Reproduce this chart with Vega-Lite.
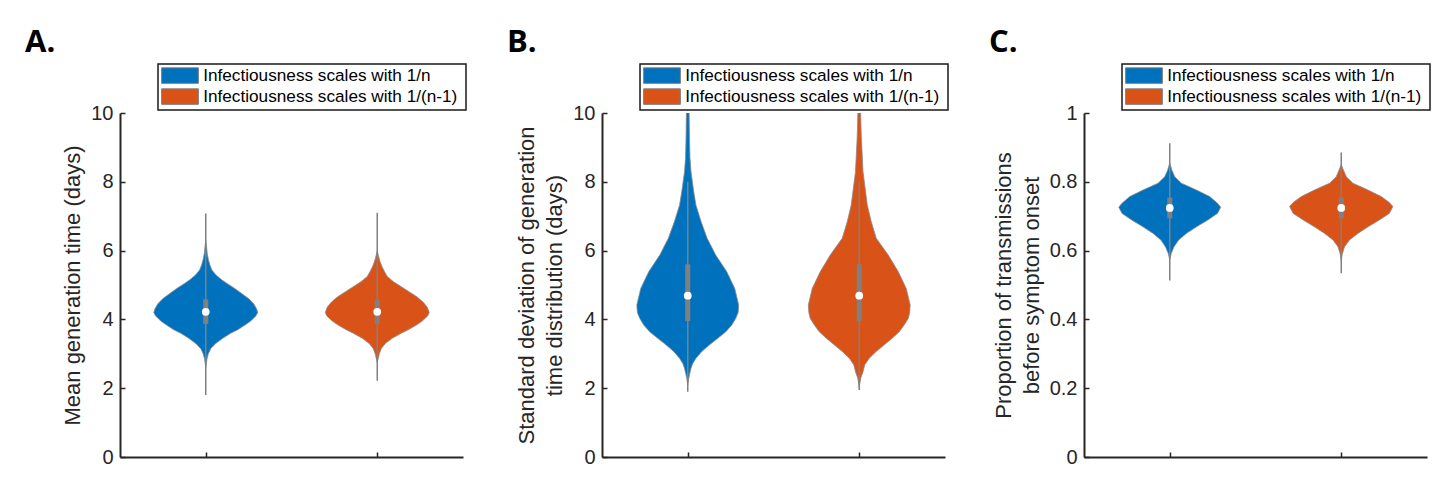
{
  "$schema": "https://vega.github.io/schema/vega-lite/v6.json",
  "background": "white",
  "padding": {"left": 25, "top": 27, "right": 15, "bottom": 20},
  "autosize": {"type": "pad"},
  "config": {
    "view": {"stroke": null},
    "axis": {
      "grid": false,
      "domainColor": "#262626",
      "domainWidth": 2,
      "tickColor": "#262626",
      "tickWidth": 1.5,
      "tickSize": -5,
      "labelColor": "#262626",
      "labelFont": "Liberation Sans",
      "labelFontSize": 20,
      "labelPadding": 12,
      "titleColor": "#262626",
      "titleFont": "Liberation Sans",
      "titleFontSize": 22,
      "titleFontWeight": "normal",
      "titleLineHeight": 28,
      "titlePadding": 6
    },
    "legend": {
      "orient": "none",
      "legendX": 38,
      "legendY": -49,
      "title": null,
      "strokeColor": "#1a1a1a",
      "strokeWidth": 1.5,
      "fillColor": "white",
      "padding": 3,
      "rowPadding": 0,
      "labelFont": "Liberation Sans",
      "labelFontSize": 17.2,
      "labelColor": "#000000",
      "labelOffset": 25,
      "labelLimit": 400,
      "symbolType": "M-1,-0.97H3.6V0.97H-1Z",
      "symbolSize": 256,
      "symbolStrokeColor": "#808080",
      "symbolStrokeWidth": 1,
      "symbolOpacity": 1
    },
    "title": {
      "anchor": "start",
      "frame": "group",
      "font": "Open Sans",
      "fontSize": 31,
      "fontWeight": "bold",
      "color": "#000000",
      "dx": -95
    }
  },
  "datasets": {
    "shapes": [
      {"panel": "A", "scaling": "1/n", "value": 6.3, "hw": 0},
      {"panel": "A", "scaling": "1/n", "value": 6.1, "hw": 0.005},
      {"panel": "A", "scaling": "1/n", "value": 5.9, "hw": 0.009},
      {"panel": "A", "scaling": "1/n", "value": 5.75, "hw": 0.015},
      {"panel": "A", "scaling": "1/n", "value": 5.6, "hw": 0.023},
      {"panel": "A", "scaling": "1/n", "value": 5.44, "hw": 0.035},
      {"panel": "A", "scaling": "1/n", "value": 5.3, "hw": 0.058},
      {"panel": "A", "scaling": "1/n", "value": 5.15, "hw": 0.093},
      {"panel": "A", "scaling": "1/n", "value": 5.05, "hw": 0.122},
      {"panel": "A", "scaling": "1/n", "value": 4.9, "hw": 0.169},
      {"panel": "A", "scaling": "1/n", "value": 4.75, "hw": 0.21},
      {"panel": "A", "scaling": "1/n", "value": 4.6, "hw": 0.251},
      {"panel": "A", "scaling": "1/n", "value": 4.45, "hw": 0.28},
      {"panel": "A", "scaling": "1/n", "value": 4.3, "hw": 0.297},
      {"panel": "A", "scaling": "1/n", "value": 4.2, "hw": 0.303},
      {"panel": "A", "scaling": "1/n", "value": 4.1, "hw": 0.292},
      {"panel": "A", "scaling": "1/n", "value": 3.95, "hw": 0.262},
      {"panel": "A", "scaling": "1/n", "value": 3.85, "hw": 0.233},
      {"panel": "A", "scaling": "1/n", "value": 3.7, "hw": 0.187},
      {"panel": "A", "scaling": "1/n", "value": 3.6, "hw": 0.146},
      {"panel": "A", "scaling": "1/n", "value": 3.45, "hw": 0.099},
      {"panel": "A", "scaling": "1/n", "value": 3.3, "hw": 0.058},
      {"panel": "A", "scaling": "1/n", "value": 3.15, "hw": 0.029},
      {"panel": "A", "scaling": "1/n", "value": 3.0, "hw": 0.015},
      {"panel": "A", "scaling": "1/n", "value": 2.85, "hw": 0.007},
      {"panel": "A", "scaling": "1/n", "value": 2.7, "hw": 0.003},
      {"panel": "A", "scaling": "1/n", "value": 2.6, "hw": 0},

      {"panel": "A", "scaling": "1/(n-1)", "value": 6.0, "hw": 0},
      {"panel": "A", "scaling": "1/(n-1)", "value": 5.85, "hw": 0.007},
      {"panel": "A", "scaling": "1/(n-1)", "value": 5.7, "hw": 0.015},
      {"panel": "A", "scaling": "1/(n-1)", "value": 5.55, "hw": 0.026},
      {"panel": "A", "scaling": "1/(n-1)", "value": 5.4, "hw": 0.041},
      {"panel": "A", "scaling": "1/(n-1)", "value": 5.25, "hw": 0.058},
      {"panel": "A", "scaling": "1/(n-1)", "value": 5.1, "hw": 0.093},
      {"panel": "A", "scaling": "1/(n-1)", "value": 4.95, "hw": 0.14},
      {"panel": "A", "scaling": "1/(n-1)", "value": 4.8, "hw": 0.187},
      {"panel": "A", "scaling": "1/(n-1)", "value": 4.65, "hw": 0.233},
      {"panel": "A", "scaling": "1/(n-1)", "value": 4.5, "hw": 0.268},
      {"panel": "A", "scaling": "1/(n-1)", "value": 4.35, "hw": 0.292},
      {"panel": "A", "scaling": "1/(n-1)", "value": 4.2, "hw": 0.303},
      {"panel": "A", "scaling": "1/(n-1)", "value": 4.1, "hw": 0.294},
      {"panel": "A", "scaling": "1/(n-1)", "value": 3.95, "hw": 0.262},
      {"panel": "A", "scaling": "1/(n-1)", "value": 3.85, "hw": 0.233},
      {"panel": "A", "scaling": "1/(n-1)", "value": 3.7, "hw": 0.181},
      {"panel": "A", "scaling": "1/(n-1)", "value": 3.6, "hw": 0.14},
      {"panel": "A", "scaling": "1/(n-1)", "value": 3.45, "hw": 0.087},
      {"panel": "A", "scaling": "1/(n-1)", "value": 3.3, "hw": 0.047},
      {"panel": "A", "scaling": "1/(n-1)", "value": 3.15, "hw": 0.023},
      {"panel": "A", "scaling": "1/(n-1)", "value": 3.0, "hw": 0.012},
      {"panel": "A", "scaling": "1/(n-1)", "value": 2.85, "hw": 0.005},
      {"panel": "A", "scaling": "1/(n-1)", "value": 2.75, "hw": 0},

      {"panel": "B", "scaling": "1/n", "value": 10.6, "hw": 0.0035},
      {"panel": "B", "scaling": "1/n", "value": 10.0, "hw": 0.008},
      {"panel": "B", "scaling": "1/n", "value": 9.26, "hw": 0.01},
      {"panel": "B", "scaling": "1/n", "value": 8.7, "hw": 0.013},
      {"panel": "B", "scaling": "1/n", "value": 8.29, "hw": 0.019},
      {"panel": "B", "scaling": "1/n", "value": 7.71, "hw": 0.035},
      {"panel": "B", "scaling": "1/n", "value": 7.32, "hw": 0.048},
      {"panel": "B", "scaling": "1/n", "value": 6.84, "hw": 0.078},
      {"panel": "B", "scaling": "1/n", "value": 6.36, "hw": 0.113},
      {"panel": "B", "scaling": "1/n", "value": 5.87, "hw": 0.163},
      {"panel": "B", "scaling": "1/n", "value": 5.39, "hw": 0.227},
      {"panel": "B", "scaling": "1/n", "value": 4.9, "hw": 0.274},
      {"panel": "B", "scaling": "1/n", "value": 4.42, "hw": 0.297},
      {"panel": "B", "scaling": "1/n", "value": 4.2, "hw": 0.294},
      {"panel": "B", "scaling": "1/n", "value": 4.03, "hw": 0.28},
      {"panel": "B", "scaling": "1/n", "value": 3.84, "hw": 0.257},
      {"panel": "B", "scaling": "1/n", "value": 3.64, "hw": 0.222},
      {"panel": "B", "scaling": "1/n", "value": 3.45, "hw": 0.175},
      {"panel": "B", "scaling": "1/n", "value": 3.26, "hw": 0.127},
      {"panel": "B", "scaling": "1/n", "value": 3.07, "hw": 0.082},
      {"panel": "B", "scaling": "1/n", "value": 2.87, "hw": 0.048},
      {"panel": "B", "scaling": "1/n", "value": 2.72, "hw": 0.029},
      {"panel": "B", "scaling": "1/n", "value": 2.58, "hw": 0.019},
      {"panel": "B", "scaling": "1/n", "value": 2.43, "hw": 0.012},
      {"panel": "B", "scaling": "1/n", "value": 2.29, "hw": 0.006},
      {"panel": "B", "scaling": "1/n", "value": 2.1, "hw": 0},

      {"panel": "B", "scaling": "1/(n-1)", "value": 10.6, "hw": 0.0035},
      {"panel": "B", "scaling": "1/(n-1)", "value": 10.0, "hw": 0.008},
      {"panel": "B", "scaling": "1/(n-1)", "value": 9.3, "hw": 0.012},
      {"panel": "B", "scaling": "1/(n-1)", "value": 8.29, "hw": 0.022},
      {"panel": "B", "scaling": "1/(n-1)", "value": 7.32, "hw": 0.047},
      {"panel": "B", "scaling": "1/(n-1)", "value": 6.84, "hw": 0.07},
      {"panel": "B", "scaling": "1/(n-1)", "value": 6.36, "hw": 0.099},
      {"panel": "B", "scaling": "1/(n-1)", "value": 5.87, "hw": 0.169},
      {"panel": "B", "scaling": "1/(n-1)", "value": 5.39, "hw": 0.227},
      {"panel": "B", "scaling": "1/(n-1)", "value": 4.9, "hw": 0.274},
      {"panel": "B", "scaling": "1/(n-1)", "value": 4.42, "hw": 0.297},
      {"panel": "B", "scaling": "1/(n-1)", "value": 4.2, "hw": 0.294},
      {"panel": "B", "scaling": "1/(n-1)", "value": 4.03, "hw": 0.286},
      {"panel": "B", "scaling": "1/(n-1)", "value": 3.84, "hw": 0.262},
      {"panel": "B", "scaling": "1/(n-1)", "value": 3.64, "hw": 0.233},
      {"panel": "B", "scaling": "1/(n-1)", "value": 3.45, "hw": 0.192},
      {"panel": "B", "scaling": "1/(n-1)", "value": 3.26, "hw": 0.146},
      {"panel": "B", "scaling": "1/(n-1)", "value": 3.07, "hw": 0.099},
      {"panel": "B", "scaling": "1/(n-1)", "value": 2.87, "hw": 0.058},
      {"panel": "B", "scaling": "1/(n-1)", "value": 2.68, "hw": 0.032},
      {"panel": "B", "scaling": "1/(n-1)", "value": 2.48, "hw": 0.022},
      {"panel": "B", "scaling": "1/(n-1)", "value": 2.3, "hw": 0.009},
      {"panel": "B", "scaling": "1/(n-1)", "value": 2.12, "hw": 0.003},
      {"panel": "B", "scaling": "1/(n-1)", "value": 2.0, "hw": 0},

      {"panel": "C", "scaling": "1/n", "value": 0.855, "hw": 0},
      {"panel": "C", "scaling": "1/n", "value": 0.845, "hw": 0.006},
      {"panel": "C", "scaling": "1/n", "value": 0.834, "hw": 0.012},
      {"panel": "C", "scaling": "1/n", "value": 0.815, "hw": 0.029},
      {"panel": "C", "scaling": "1/n", "value": 0.796, "hw": 0.068},
      {"panel": "C", "scaling": "1/n", "value": 0.776, "hw": 0.156},
      {"panel": "C", "scaling": "1/n", "value": 0.757, "hw": 0.233},
      {"panel": "C", "scaling": "1/n", "value": 0.737, "hw": 0.28},
      {"panel": "C", "scaling": "1/n", "value": 0.726, "hw": 0.297},
      {"panel": "C", "scaling": "1/n", "value": 0.708, "hw": 0.278},
      {"panel": "C", "scaling": "1/n", "value": 0.689, "hw": 0.222},
      {"panel": "C", "scaling": "1/n", "value": 0.669, "hw": 0.156},
      {"panel": "C", "scaling": "1/n", "value": 0.65, "hw": 0.097},
      {"panel": "C", "scaling": "1/n", "value": 0.631, "hw": 0.052},
      {"panel": "C", "scaling": "1/n", "value": 0.611, "hw": 0.025},
      {"panel": "C", "scaling": "1/n", "value": 0.592, "hw": 0.009},
      {"panel": "C", "scaling": "1/n", "value": 0.573, "hw": 0},

      {"panel": "C", "scaling": "1/(n-1)", "value": 0.85, "hw": 0},
      {"panel": "C", "scaling": "1/(n-1)", "value": 0.835, "hw": 0.012},
      {"panel": "C", "scaling": "1/(n-1)", "value": 0.815, "hw": 0.029},
      {"panel": "C", "scaling": "1/(n-1)", "value": 0.796, "hw": 0.068},
      {"panel": "C", "scaling": "1/(n-1)", "value": 0.776, "hw": 0.156},
      {"panel": "C", "scaling": "1/(n-1)", "value": 0.757, "hw": 0.233},
      {"panel": "C", "scaling": "1/(n-1)", "value": 0.74, "hw": 0.28},
      {"panel": "C", "scaling": "1/(n-1)", "value": 0.728, "hw": 0.301},
      {"panel": "C", "scaling": "1/(n-1)", "value": 0.708, "hw": 0.28},
      {"panel": "C", "scaling": "1/(n-1)", "value": 0.689, "hw": 0.222},
      {"panel": "C", "scaling": "1/(n-1)", "value": 0.669, "hw": 0.156},
      {"panel": "C", "scaling": "1/(n-1)", "value": 0.65, "hw": 0.097},
      {"panel": "C", "scaling": "1/(n-1)", "value": 0.631, "hw": 0.048},
      {"panel": "C", "scaling": "1/(n-1)", "value": 0.611, "hw": 0.019},
      {"panel": "C", "scaling": "1/(n-1)", "value": 0.59, "hw": 0.006},
      {"panel": "C", "scaling": "1/(n-1)", "value": 0.57, "hw": 0}
    ],
    "stats": [
      {"panel": "A", "scaling": "1/n", "min": 1.8, "q1": 3.87, "median": 4.22, "q3": 4.58, "max": 7.08},
      {"panel": "A", "scaling": "1/(n-1)", "min": 2.22, "q1": 3.87, "median": 4.22, "q3": 4.58, "max": 7.1},
      {"panel": "B", "scaling": "1/n", "min": 1.9, "q1": 3.95, "median": 4.69, "q3": 5.6, "max": 8.0},
      {"panel": "B", "scaling": "1/(n-1)", "min": 1.95, "q1": 3.95, "median": 4.69, "q3": 5.6, "max": 8.0},
      {"panel": "C", "scaling": "1/n", "min": 0.513, "q1": 0.694, "median": 0.724, "q3": 0.754, "max": 0.912},
      {"panel": "C", "scaling": "1/(n-1)", "min": 0.534, "q1": 0.694, "median": 0.724, "q3": 0.754, "max": 0.885}
    ]
  },
  "spacing": 139,
  "bounds": "flush",
  "resolve": {
    "scale": {"x": "independent", "y": "independent", "color": "independent"},
    "legend": {"color": "independent"}
  },
  "hconcat": [
    {
      "width": 343,
      "height": 344,
      "title": {"text": "A."},
      "layer": [
        {
          "data": {"name": "shapes"},
          "transform": [
            {"filter": "datum.panel == 'A'"},
            {"calculate": "datum.scaling == '1/n' ? 1 : 2", "as": "pos"},
            {"calculate": "datum.pos - datum.hw", "as": "lo"},
            {"calculate": "datum.pos + datum.hw", "as": "hi"}
          ],
          "mark": {"type": "area", "orient": "horizontal", "stroke": "#8a8a8a", "strokeWidth": 0.8, "opacity": 1, "clip": true},
          "encoding": {
            "y": {"field": "value", "type": "quantitative", "scale": {"domain": [0, 10], "nice": false},
                  "axis": {"values": [0, 2, 4, 6, 8, 10], "title": "Mean generation time (days)"}},
            "x": {"field": "lo", "type": "quantitative", "scale": {"domain": [0.5, 2.5], "nice": false, "zero": false},
                  "axis": {"values": [1, 2], "labels": false, "title": null}},
            "x2": {"field": "hi"},
            "color": {"field": "scaling", "type": "nominal",
                      "scale": {"domain": ["1/n", "1/(n-1)"], "range": ["#0072BD", "#D95319"]},
                      "legend": {"labelExpr": "'Infectiousness scales with  ' + datum.label"}}
          }
        },
        {
          "data": {"name": "stats"},
          "transform": [
            {"filter": "datum.panel == 'A'"},
            {"calculate": "datum.scaling == '1/n' ? 1 : 2", "as": "pos"}
          ],
          "layer": [
            {"mark": {"type": "rule", "color": "#808080", "strokeWidth": 1.5},
             "encoding": {"x": {"field": "pos", "type": "quantitative"}, "y": {"field": "min", "type": "quantitative"}, "y2": {"field": "max"}}},
            {"mark": {"type": "rule", "color": "#808080", "strokeWidth": 5},
             "encoding": {"x": {"field": "pos", "type": "quantitative"}, "y": {"field": "q1", "type": "quantitative"}, "y2": {"field": "q3"}}},
            {"mark": {"type": "point", "filled": true, "color": "white", "opacity": 1, "size": 60, "shape": "circle"},
             "encoding": {"x": {"field": "pos", "type": "quantitative"}, "y": {"field": "median", "type": "quantitative"}}}
          ]
        }
      ]
    },
    {
      "width": 343,
      "height": 344,
      "title": {"text": "B."},
      "layer": [
        {
          "data": {"name": "shapes"},
          "transform": [
            {"filter": "datum.panel == 'B'"},
            {"calculate": "datum.scaling == '1/n' ? 1 : 2", "as": "pos"},
            {"calculate": "datum.pos - datum.hw", "as": "lo"},
            {"calculate": "datum.pos + datum.hw", "as": "hi"}
          ],
          "mark": {"type": "area", "orient": "horizontal", "stroke": "#8a8a8a", "strokeWidth": 0.8, "opacity": 1, "clip": true},
          "encoding": {
            "y": {"field": "value", "type": "quantitative", "scale": {"domain": [0, 10], "nice": false},
                  "axis": {"values": [0, 2, 4, 6, 8, 10], "title": ["Standard deviation of generation", "time distribution (days)"]}},
            "x": {"field": "lo", "type": "quantitative", "scale": {"domain": [0.5, 2.5], "nice": false, "zero": false},
                  "axis": {"values": [1, 2], "labels": false, "title": null}},
            "x2": {"field": "hi"},
            "color": {"field": "scaling", "type": "nominal",
                      "scale": {"domain": ["1/n", "1/(n-1)"], "range": ["#0072BD", "#D95319"]},
                      "legend": {"labelExpr": "'Infectiousness scales with  ' + datum.label"}}
          }
        },
        {
          "data": {"name": "stats"},
          "transform": [
            {"filter": "datum.panel == 'B'"},
            {"calculate": "datum.scaling == '1/n' ? 1 : 2", "as": "pos"}
          ],
          "layer": [
            {"mark": {"type": "rule", "color": "#808080", "strokeWidth": 1.5},
             "encoding": {"x": {"field": "pos", "type": "quantitative"}, "y": {"field": "min", "type": "quantitative"}, "y2": {"field": "max"}}},
            {"mark": {"type": "rule", "color": "#808080", "strokeWidth": 5},
             "encoding": {"x": {"field": "pos", "type": "quantitative"}, "y": {"field": "q1", "type": "quantitative"}, "y2": {"field": "q3"}}},
            {"mark": {"type": "point", "filled": true, "color": "white", "opacity": 1, "size": 60, "shape": "circle"},
             "encoding": {"x": {"field": "pos", "type": "quantitative"}, "y": {"field": "median", "type": "quantitative"}}}
          ]
        }
      ]
    },
    {
      "width": 343,
      "height": 344,
      "title": {"text": "C."},
      "layer": [
        {
          "data": {"name": "shapes"},
          "transform": [
            {"filter": "datum.panel == 'C'"},
            {"calculate": "datum.scaling == '1/n' ? 1 : 2", "as": "pos"},
            {"calculate": "datum.pos - datum.hw", "as": "lo"},
            {"calculate": "datum.pos + datum.hw", "as": "hi"}
          ],
          "mark": {"type": "area", "orient": "horizontal", "stroke": "#8a8a8a", "strokeWidth": 0.8, "opacity": 1, "clip": true},
          "encoding": {
            "y": {"field": "value", "type": "quantitative", "scale": {"domain": [0, 1], "nice": false},
                  "axis": {"values": [0, 0.2, 0.4, 0.6, 0.8, 1], "format": "~g", "title": ["Proportion of transmissions", "before symptom onset"]}},
            "x": {"field": "lo", "type": "quantitative", "scale": {"domain": [0.5, 2.5], "nice": false, "zero": false},
                  "axis": {"values": [1, 2], "labels": false, "title": null}},
            "x2": {"field": "hi"},
            "color": {"field": "scaling", "type": "nominal",
                      "scale": {"domain": ["1/n", "1/(n-1)"], "range": ["#0072BD", "#D95319"]},
                      "legend": {"labelExpr": "'Infectiousness scales with  ' + datum.label"}}
          }
        },
        {
          "data": {"name": "stats"},
          "transform": [
            {"filter": "datum.panel == 'C'"},
            {"calculate": "datum.scaling == '1/n' ? 1 : 2", "as": "pos"}
          ],
          "layer": [
            {"mark": {"type": "rule", "color": "#808080", "strokeWidth": 1.5},
             "encoding": {"x": {"field": "pos", "type": "quantitative"}, "y": {"field": "min", "type": "quantitative"}, "y2": {"field": "max"}}},
            {"mark": {"type": "rule", "color": "#808080", "strokeWidth": 5},
             "encoding": {"x": {"field": "pos", "type": "quantitative"}, "y": {"field": "q1", "type": "quantitative"}, "y2": {"field": "q3"}}},
            {"mark": {"type": "point", "filled": true, "color": "white", "opacity": 1, "size": 60, "shape": "circle"},
             "encoding": {"x": {"field": "pos", "type": "quantitative"}, "y": {"field": "median", "type": "quantitative"}}}
          ]
        }
      ]
    }
  ]
}
